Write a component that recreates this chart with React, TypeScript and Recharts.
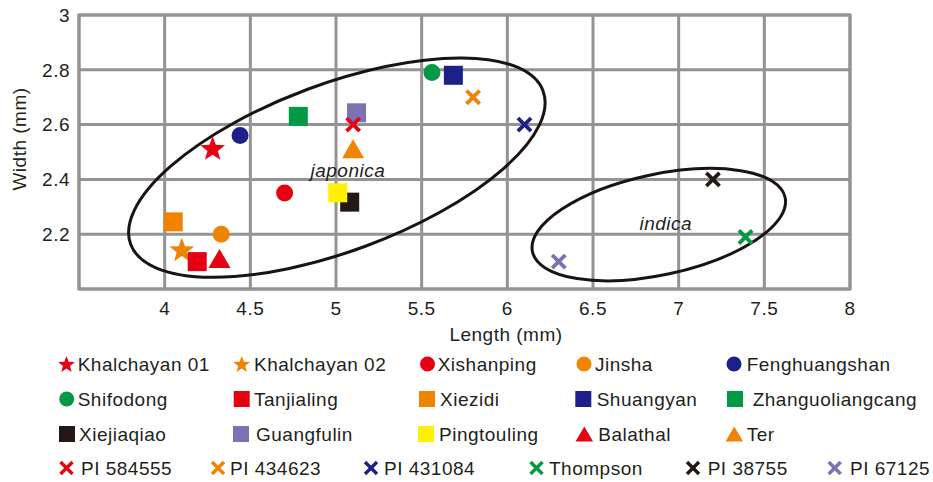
import React from 'react';
import { ScatterChart, Scatter, XAxis, YAxis, CartesianGrid, ReferenceArea } from 'recharts';

// ---------- data ----------
const sampleNames = [
  'Khalchayan 01', 'Khalchayan 02', 'Xishanping', 'Jinsha', 'Fenghuangshan',
  'Shifodong', 'Tanjialing', 'Xiezidi', 'Shuangyan', 'Zhanguoliangcang',
  'Xiejiaqiao', 'Guangfulin', 'Pingtouling', 'Balathal', 'Ter',
  'PI 584555', 'PI 434623', 'PI 431084', 'Thompson', 'PI 38755', 'PI 67125',
];
const lengthValues = [
  4.28, 4.1, 4.7, 4.33, 4.44,
  5.56, 4.19, 4.05, 5.685, 4.78,
  5.08, 5.12, 5.01, 4.32, 5.1,
  5.1, 5.8, 6.1, 7.39, 7.2, 6.3,
];
const widthValues = [
  2.51, 2.14, 2.35, 2.2, 2.56,
  2.79, 2.1, 2.245, 2.78, 2.63,
  2.317, 2.643, 2.351, 2.1, 2.5,
  2.6, 2.7, 2.6, 2.19, 2.4, 2.1,
];
const markerShapes = [
  'star', 'star', 'circle', 'circle', 'circle',
  'circle', 'square', 'square', 'square', 'square',
  'square', 'square', 'square', 'triangle', 'triangle',
  'cross', 'cross', 'cross', 'cross', 'cross', 'cross',
];
const RED = '#e60012';
const ORANGE = '#f08300';
const NAVY = '#1d2088';
const GREEN = '#009944';
const BLACK = '#231815';
const PURPLE = '#7d71b4';
const YELLOW = '#fff100';
const markerColors = [
  RED, ORANGE, RED, ORANGE, NAVY,
  GREEN, RED, ORANGE, NAVY, GREEN,
  BLACK, PURPLE, YELLOW, RED, ORANGE,
  RED, ORANGE, NAVY, GREEN, BLACK, PURPLE,
];

const xTicks = [3.5, 4, 4.5, 5, 5.5, 6, 6.5, 7, 7.5, 8];
const yTicks = [2, 2.2, 2.4, 2.6, 2.8, 3];

const clusterNames = ['japonica', 'indica'];
const clusterCenterLength = [5.005, 6.884];
const clusterCenterWidth = [2.443, 2.235];

// ---------- layout / style ----------
const FONT = '"Liberation Sans", Arial, Helvetica, sans-serif';
const TEXT = '#231f20';
const GRID = '#939393';
const FS = 19;
const LS = 0.5;

const clusterStyle = [
  { rx: 220, ry: 83.6, angle: -20.4, ldx: 11, ldy: 9.5 },
  { rx: 129.2, ry: 50.3, angle: -12.1, ldx: 7, ldy: 5.5 },
];

const plotSizes: Record<string, number> = { star: 13, circle: 8.5, square: 19, triangle: 22, cross: 6.6 };
const legendSizes: Record<string, number> = { star: 8.8, circle: 7.5, square: 16, triangle: 17.5, cross: 6 };

// legend layout: [marker center x, text start x, row center y]
const legendLayout: [number, number, number][] = [
  [66.5, 77.7, 364], [241.7, 254, 364], [427.5, 437.7, 364], [584, 595, 364], [734, 746.7, 364],
  [66.7, 77.7, 399], [241.7, 254, 399], [427, 440, 399], [583.3, 596.7, 399], [735, 752.7, 399],
  [67, 79, 434], [241, 256, 434], [426, 439, 434], [584.3, 598.3, 434], [734.3, 746.7, 434],
  [66.5, 81, 468], [218, 230, 468], [371, 384, 468], [536.5, 549, 468], [693, 707.7, 468], [834.7, 850, 468],
];

function starPoints(cx: number, cy: number, R: number, ratio: number) {
  const pts: string[] = [];
  const r = R * ratio;
  for (let k = 0; k < 10; k++) {
    const rad = k % 2 === 0 ? R : r;
    const a = -Math.PI / 2 + (k * Math.PI) / 5;
    pts.push(`${cx + rad * Math.cos(a)},${cy + rad * Math.sin(a)}`);
  }
  return pts.join(' ');
}

function Marker({ kind, color, cx, cy, size, legend }: { kind: string; color: string; cx: number; cy: number; size: number; legend?: boolean }) {
  if (cx == null || cy == null) return null;
  switch (kind) {
    case 'star': {
      const y = legend ? cy + 0.0955 * size : cy;
      return <polygon points={starPoints(cx, y, size, 0.42)} fill={color} />;
    }
    case 'circle':
      return <circle cx={cx} cy={cy} r={size} fill={color} />;
    case 'square':
      return <rect x={cx - size / 2} y={cy - size / 2} width={size} height={size} fill={color} />;
    case 'triangle': {
      const h = (size * Math.sqrt(3)) / 2;
      const top = legend ? cy - h / 2 : cy - (2 * h) / 3;
      return (
        <polygon
          points={`${cx},${top} ${cx - size / 2},${top + h} ${cx + size / 2},${top + h}`}
          fill={color}
        />
      );
    }
    case 'cross': {
      const sw = legend ? 3.4 : 3.8;
      return (
        <g stroke={color} strokeWidth={sw}>
          <line x1={cx - size} y1={cy - size} x2={cx + size} y2={cy + size} />
          <line x1={cx - size} y1={cy + size} x2={cx + size} y2={cy - size} />
        </g>
      );
    }
    default:
      return null;
  }
}

const points = sampleNames.map((name, i) => ({ name, length: lengthValues[i], width: widthValues[i] }));
const clusters = clusterNames.map((name, i) => ({ name, length: clusterCenterLength[i], width: clusterCenterWidth[i] }));

const tickStyle = { fill: TEXT, fontSize: FS, fontFamily: FONT, letterSpacing: LS };

export default function App() {
  return (
    <div style={{ position: 'absolute', left: 0, top: 0, width: 933, height: 482, background: '#fff' }}>
      <ScatterChart
        width={933}
        height={482}
        margin={{ top: 15, right: 83, bottom: 143, left: 0 }}
      >
        <CartesianGrid stroke={GRID} strokeWidth={3} />
        <XAxis
          type="number"
          dataKey="length"
          domain={[3.5, 8]}
          ticks={xTicks}
          interval={0}
          allowDataOverflow
          height={50}
          axisLine={false}
          tickLine={false}
          tickSize={6}
          tickMargin={7}
          tick={tickStyle}
          tickFormatter={(v: number) => (v === 3.5 ? '' : String(v))}
          label={() => (
            <text x={506} y={341} textAnchor="middle" fill={TEXT} fontSize={FS} fontFamily={FONT} style={{ letterSpacing: LS }}>
              Length (mm)
            </text>
          )}
        />
        <YAxis
          type="number"
          dataKey="width"
          domain={[2, 3]}
          ticks={yTicks}
          interval={0}
          allowDataOverflow
          width={79}
          axisLine={false}
          tickLine={false}
          tickSize={6}
          tickMargin={3}
          tick={tickStyle}
          tickFormatter={(v: number) => (v === 2 ? '' : String(v))}
          label={() => (
            <text
              x={19.5}
              y={139}
              textAnchor="middle"
              dominantBaseline="central"
              transform="rotate(-90, 19.5, 139)"
              fill={TEXT}
              fontSize={FS}
              fontFamily={FONT}
              style={{ letterSpacing: LS }}
            >
              Width (mm)
            </text>
          )}
        />
        <ReferenceArea x1={3.5} x2={8} y1={2} y2={3} fill="none" stroke={GRID} strokeWidth={3} ifOverflow="visible" />
        {clusters.map((c, i) => (
          <Scatter
            key={c.name}
            name={c.name}
            data={[c]}
            isAnimationActive={false}
            shape={(p: any) => {
              const st = clusterStyle[i];
              return (
                <g>
                  <ellipse
                    cx={p.cx}
                    cy={p.cy}
                    rx={st.rx}
                    ry={st.ry}
                    fill="none"
                    stroke="#1a1311"
                    strokeWidth={3}
                    transform={`rotate(${st.angle}, ${p.cx}, ${p.cy})`}
                  />
                  <text
                    x={p.cx + st.ldx}
                    y={p.cy + st.ldy}
                    textAnchor="middle"
                    fontStyle="italic"
                    fill={TEXT}
                    fontSize={FS}
                    fontFamily={FONT}
                    style={{ letterSpacing: LS }}
                  >
                    {c.name}
                  </text>
                </g>
              );
            }}
          />
        ))}
        {points.map((pt, i) => (
          <Scatter
            key={pt.name}
            name={pt.name}
            data={[pt]}
            isAnimationActive={false}
            shape={(p: any) => (
              <Marker kind={markerShapes[i]} color={markerColors[i]} cx={p.cx} cy={p.cy} size={plotSizes[markerShapes[i]]} />
            )}
          />
        ))}
      </ScatterChart>
      <svg
        width={933}
        height={482}
        style={{ position: 'absolute', left: 0, top: 0, pointerEvents: 'none' }}
      >
        {sampleNames.map((name, i) => {
          const [mx, tx, ry] = legendLayout[i];
          return (
            <g key={name}>
              <Marker kind={markerShapes[i]} color={markerColors[i]} cx={mx} cy={ry} size={legendSizes[markerShapes[i]]} legend />
              <text x={tx} y={ry + 7} fill={TEXT} fontSize={FS} fontFamily={FONT} style={{ letterSpacing: LS }}>
                {name}
              </text>
            </g>
          );
        })}
      </svg>
    </div>
  );
}
